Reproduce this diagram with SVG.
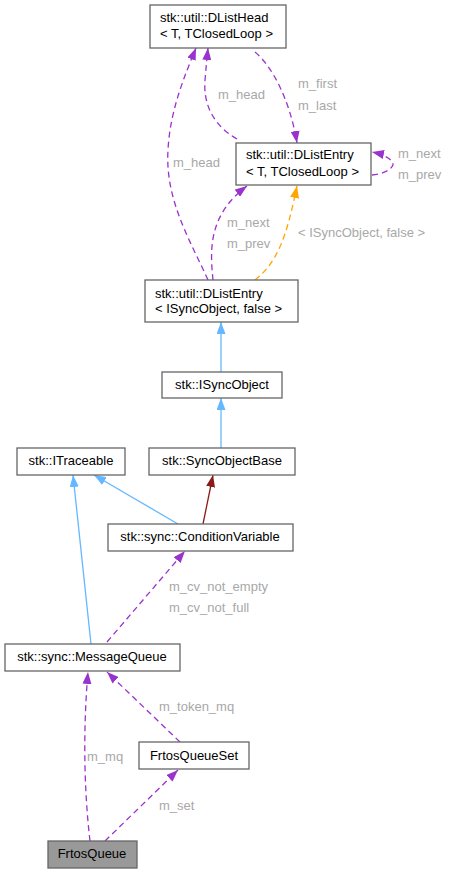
<svg xmlns="http://www.w3.org/2000/svg" width="451" height="873" viewBox="0 0 451 873">
<style>
.node rect{fill:#ffffff;stroke:#666666;stroke-width:1.3}
.node text{font-family:"Liberation Sans",Arial,sans-serif;font-size:13px;fill:#000000}
.c{text-anchor:middle}
.lbl{font-family:"Liberation Sans",Arial,sans-serif;font-size:13px;fill:#a8a8a8}
.e{fill:none;stroke-width:1.3}
.p{stroke:#9a32cd;stroke-dasharray:6,4}
.o{stroke:#ffa500;stroke-dasharray:6,4}
.b{stroke:#63b8ff}
.r{stroke:#8b1a1a}
</style>
<defs>
<marker id="ap" markerUnits="userSpaceOnUse" viewBox="0 0 12 9" refX="12" refY="4.5" markerWidth="12" markerHeight="9" orient="auto"><path d="M0,0 L12,4.5 L0,9 z" fill="#9a32cd"/></marker>
<marker id="ao" markerUnits="userSpaceOnUse" viewBox="0 0 12 9" refX="12" refY="4.5" markerWidth="12" markerHeight="9" orient="auto"><path d="M0,0 L12,4.5 L0,9 z" fill="#ffa500"/></marker>
<marker id="ab" markerUnits="userSpaceOnUse" viewBox="0 0 12 9" refX="12" refY="4.5" markerWidth="12" markerHeight="9" orient="auto"><path d="M0,0 L12,4.5 L0,9 z" fill="#63b8ff"/></marker>
<marker id="ar" markerUnits="userSpaceOnUse" viewBox="0 0 12 9" refX="12" refY="4.5" markerWidth="12" markerHeight="9" orient="auto"><path d="M0,0 L12,4.5 L0,9 z" fill="#8b1a1a"/></marker>
</defs>
<g id="connectors">
<path class="e p" d="M255,52 C272,66 290,100 297,143" marker-end="url(#ap)"/>
<path class="e p" d="M237,139 C214,126 203,105 205,80 C206,68 207,58 208,48" marker-end="url(#ap)"/>
<path class="e p" d="M208,280 C190,240 165,200 168,150 C170,110 185,75 196,48" marker-end="url(#ap)"/>
<path class="e p" d="M372,175 C383,174 391,170 393,165 C393,160 386,155 372,152" marker-end="url(#ap)"/>
<path class="e p" d="M213,280 C210,250 208,215 247,186" marker-end="url(#ap)"/>
<path class="e o" d="M255,280 C278,262 287,235 297,186" marker-end="url(#ao)"/>
<path class="e b" d="M221,372 L221,322" marker-end="url(#ab)"/>
<path class="e b" d="M221,448 L221,398" marker-end="url(#ab)"/>
<path class="e r" d="M203,524 L213,475" marker-end="url(#ar)"/>
<path class="e b" d="M178,524 L94,475" marker-end="url(#ab)"/>
<path class="e b" d="M91,644 L73,475" marker-end="url(#ab)"/>
<path class="e p" d="M107,642 L185,551" marker-end="url(#ap)"/>
<path class="e p" d="M180,742 L107,672" marker-end="url(#ap)"/>
<path class="e p" d="M90,841 C84,790 83,730 88,672" marker-end="url(#ap)"/>
<path class="e p" d="M105,841 L178,770" marker-end="url(#ap)"/>
<text class="lbl" x="298" y="88">m_first</text>
<text class="lbl" x="298" y="110">m_last</text>
<text class="lbl" x="218" y="99">m_head</text>
<text class="lbl" x="173" y="167">m_head</text>
<text class="lbl" x="398" y="158">m_next</text>
<text class="lbl" x="398" y="179">m_prev</text>
<text class="lbl" x="227" y="227">m_next</text>
<text class="lbl" x="227" y="248">m_prev</text>
<text class="lbl" x="298" y="237">&lt; ISyncObject, false &gt;</text>
<text class="lbl" x="169" y="591">m_cv_not_empty</text>
<text class="lbl" x="169" y="612">m_cv_not_full</text>
<text class="lbl" x="159" y="711">m_token_mq</text>
<text class="lbl" x="87" y="761">m_mq</text>
<text class="lbl" x="159" y="810">m_set</text>
</g>
<g id="node_dlisthead" class="node">
<rect x="150" y="5" width="136" height="43"/>
<text x="160" y="22">stk::util::DListHead</text>
<text x="160" y="38">&lt; T, TClosedLoop &gt;</text>
</g>
<g id="node_dlistentry_t" class="node">
<rect x="236" y="143" width="135" height="42"/>
<text x="246" y="159">stk::util::DListEntry</text>
<text x="246" y="176">&lt; T, TClosedLoop &gt;</text>
</g>
<g id="node_dlistentry_isync" class="node">
<rect x="145" y="280" width="153" height="42"/>
<text x="155" y="298">stk::util::DListEntry</text>
<text x="155" y="313">&lt; ISyncObject, false &gt;</text>
</g>
<g id="node_isyncobject" class="node">
<rect x="162" y="372" width="120" height="26"/>
<text class="c" x="222" y="389">stk::ISyncObject</text>
</g>
<g id="node_itraceable" class="node">
<rect x="17" y="448" width="108" height="27"/>
<text class="c" x="71" y="465">stk::ITraceable</text>
</g>
<g id="node_syncobjectbase" class="node">
<rect x="149" y="448" width="146" height="27"/>
<text class="c" x="222" y="465">stk::SyncObjectBase</text>
</g>
<g id="node_conditionvariable" class="node">
<rect x="108" y="524" width="185" height="27"/>
<text class="c" x="200" y="541">stk::sync::ConditionVariable</text>
</g>
<g id="node_messagequeue" class="node">
<rect x="5" y="644" width="175" height="27"/>
<text class="c" x="92" y="661">stk::sync::MessageQueue</text>
</g>
<g id="node_frtosqueueset" class="node">
<rect x="139" y="742" width="110" height="27"/>
<text class="c" x="194" y="760">FrtosQueueSet</text>
</g>
<g id="node_frtosqueue" class="node">
<rect x="48" y="841" width="89" height="27" style="fill:#999999"/>
<text class="c" x="92" y="858">FrtosQueue</text>
</g>
</svg>
